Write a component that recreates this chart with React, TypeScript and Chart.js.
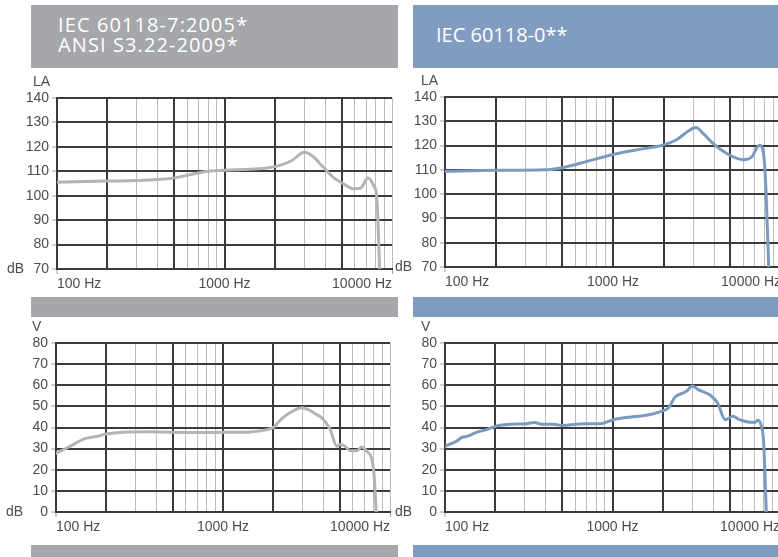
import React, { useEffect, useRef } from "react";
import { Chart, registerables } from "chart.js";

Chart.register(...registerables);

// ---------- data ----------
const TITLE_LEFT_LINES = ["IEC 60118-7:2005*", "ANSI S3.22-2009*"];
const TITLE_RIGHT = "IEC 60118-0**";

const X_LABEL_VALUES = [100, 1000, 10000];
const X_LABEL_TEXTS = ["100 Hz", "1000 Hz", "10000 Hz"];
const X_GRID_VALUES = [
  100, 200, 300, 400, 500, 600, 700, 800, 900,
  1000, 2000, 3000, 4000, 5000, 6000, 7000, 8000, 9000, 10000,
];
const X_MAJOR_GRID = [100, 200, 500, 1000, 2000, 5000];

const LA_RANGE = [70, 140];
const V_RANGE = [0, 80];

// IEC 60118-7 / ANSI - LA (gray)
const LA7_FREQ = [100, 200, 300, 400, 500, 630, 800, 1000, 1600, 2000, 2500, 3000, 3350, 3750, 4500, 5100, 5900, 6500, 7200, 7800, 8100, 8250, 8430];
const LA7_VALUES = [105.5, 106, 106.2, 106.6, 107.3, 108.7, 110, 110.4, 111, 111.9, 114.2, 117.8, 116.3, 112.8, 107.3, 105, 102.8, 103.1, 107.3, 103.9, 99.8, 88.8, 70];

// IEC 60118-0 - LA (blue)
const LA0_FREQ = [100, 200, 394, 500, 700, 1000, 1320, 2000, 2390, 2810, 3120, 3450, 3950, 4970, 5970, 6690, 7430, 7850, 8140, 8450];
const LA0_VALUES = [109.4, 109.8, 110, 110.9, 113.5, 116.3, 118, 120.3, 122.4, 126, 127.4, 124.9, 120.8, 116, 114.2, 115.3, 120.1, 117.3, 101.6, 70];

// IEC 60118-7 / ANSI - V (gray)
const V7_FREQ = [100, 116, 149, 175, 200, 265, 366, 500, 730, 1000, 1460, 1830, 2010, 2150, 2420, 2980, 3260, 3570, 3910, 4390, 4800, 5030, 5390, 5770, 6330, 6790, 7270, 7790, 8040, 8270];
const V7_VALUES = [27.9, 30.3, 34.7, 35.7, 36.9, 37.9, 38.0, 37.7, 37.6, 37.7, 37.9, 39, 40.1, 42.6, 46.1, 49.4, 48.4, 46.5, 44.5, 39, 31.1, 31.9, 31.1, 29, 29, 30.8, 28.7, 24.8, 16.9, 0];

// IEC 60118-0 - V (blue)
const V0_FREQ = [100, 117, 126, 135, 154, 177, 201, 244, 307, 344, 377, 443, 503, 638, 841, 1011, 1330, 1596, 2011, 2155, 2360, 2760, 3000, 3250, 3800, 4240, 4710, 5230, 5740, 6430, 7060, 7390, 7740, 7990, 8280];
const V0_VALUES = [31.1, 33.5, 35.3, 35.8, 37.7, 39, 40.6, 41.5, 41.8, 42.4, 41.5, 41.5, 41, 41.7, 41.8, 43.7, 45.1, 45.8, 48, 49.2, 54.3, 57.1, 59.6, 57.9, 55.5, 51.6, 43.7, 45.3, 43.7, 42.6, 42.4, 43.4, 40.6, 32.7, 0];

// ---------- styles ----------
const GRAY_BAND = "#a5a7aa";
const BLUE_BAND = "#809dc1";
const GRAY_LINE = "#b4b4b4";
const BLUE_LINE = "#7b9ac0";
const DARK_GRID = "#3a3a3a";
const LIGHT_GRID = "#bdbdbd";
const TICK_MARK = "#a0a0a0";
const TEXT = "#4d4d4d";
const FONT_FAMILY = '"Liberation Sans", Arial, sans-serif';

const M_LEFT = 57;
const M_TOP = 30;
const M_RIGHT = 6;
const M_BOTTOM = 26;

type PanelProps = {
  area: { x0: number; x1: number; y0: number; y1: number };
  freq: number[];
  values: number[];
  range: number[];
  unit: string;
  color: string;
};

function Panel({ area, freq, values, range, unit, color }: PanelProps) {
  const ref = useRef<HTMLCanvasElement>(null);
  const width = area.x1 - area.x0 + M_LEFT + M_RIGHT;
  const height = area.y1 - area.y0 + M_TOP + M_BOTTOM;

  useEffect(() => {
    const labelPlugin = {
      id: "panelLabels",
      afterDraw(chart: any) {
        const { ctx, chartArea } = chart;
        const xs = chart.scales.x;
        ctx.save();
        ctx.fillStyle = TEXT;
        ctx.font = `14px ${FONT_FAMILY}`;
        ctx.textBaseline = "alphabetic";
        X_LABEL_VALUES.forEach((v, i) => {
          ctx.textAlign = i === 0 ? "left" : i === X_LABEL_VALUES.length - 1 ? "right" : "center";
          ctx.fillText(X_LABEL_TEXTS[i], xs.getPixelForValue(v), chartArea.bottom + 19);
        });
        ctx.textAlign = "left";
        ctx.fillText(unit, chartArea.left - 24, chartArea.top - 12);
        ctx.textAlign = "right";
        ctx.fillText("dB", chartArea.left - 33, chartArea.bottom + 4);
        ctx.restore();
      },
    };

    const chart = new Chart(ref.current!, {
      type: "line",
      data: {
        datasets: [
          {
            data: freq.map((f, i) => ({ x: f, y: values[i] })),
            borderColor: color,
            borderWidth: 3,
            pointRadius: 0,
            fill: false,
            cubicInterpolationMode: "monotone",
            borderCapStyle: "round",
            borderJoinStyle: "round",
          },
        ],
      },
      options: {
        responsive: false,
        animation: false,
        events: [],
        layout: { padding: { top: M_TOP, right: M_RIGHT, left: 0, bottom: 0 } },
        plugins: { legend: { display: false }, tooltip: { enabled: false } },
        scales: {
          x: {
            type: "logarithmic",
            min: 100,
            max: 10000,
            afterBuildTicks: (s: any) => {
              s.ticks = X_GRID_VALUES.map((v) => ({ value: v }));
            },
            afterFit: (s: any) => {
              s.height = M_BOTTOM;
            },
            ticks: { display: false },
            border: { display: true, color: DARK_GRID, width: 2 },
            grid: {
              color: (c: any) => (c.tick && X_MAJOR_GRID.includes(c.tick.value) ? DARK_GRID : LIGHT_GRID),
              lineWidth: (c: any) => (c.tick && X_MAJOR_GRID.includes(c.tick.value) ? 2 : 1),
              tickLength: 5,
              tickWidth: 1,
              tickColor: (c: any) =>
                c.tick && (c.tick.value === 100 || c.tick.value === 10000) ? TICK_MARK : "rgba(0,0,0,0)",
            },
          },
          y: {
            type: "linear",
            min: range[0],
            max: range[1],
            afterFit: (s: any) => {
              s.width = M_LEFT;
            },
            ticks: {
              stepSize: 10,
              autoSkip: false,
              padding: 3,
              color: TEXT,
              font: { family: FONT_FAMILY, size: 14 },
            },
            border: { display: true, color: DARK_GRID, width: 2 },
            grid: {
              color: DARK_GRID,
              lineWidth: 2,
              tickLength: 5,
              tickWidth: 1,
              tickColor: TICK_MARK,
            },
          },
        },
      },
      plugins: [labelPlugin],
    } as any);
    return () => chart.destroy();
  }, []);

  return (
    <canvas
      ref={ref}
      width={width}
      height={height}
      style={{ position: "absolute", left: area.x0 - M_LEFT, top: area.y0 - M_TOP, width, height }}
    />
  );
}

const band = (left: number, top: number, width: number, height: number, bg: string): React.CSSProperties => ({
  position: "absolute",
  left,
  top,
  width,
  height,
  background: bg,
});

const titleStyle: React.CSSProperties = {
  position: "absolute",
  fontFamily: '"Open Sans", "Noto Sans", sans-serif',
  fontSize: 20,
  lineHeight: "20px",
  color: "#ffffff",
  whiteSpace: "nowrap",
};

export default function App() {
  return (
    <div
      style={{
        position: "fixed",
        left: 0,
        top: 0,
        width: 778,
        height: 557,
        overflow: "hidden",
        background: "#ffffff",
      }}
    >
      <div style={band(31, 5, 367, 63, GRAY_BAND)} />
      <div style={band(413, 5, 365, 63, BLUE_BAND)} />
      <div style={{ ...titleStyle, left: 58, top: 15, letterSpacing: "1.1px" }}>
        {TITLE_LEFT_LINES.map((t) => (
          <div key={t}>{t}</div>
        ))}
      </div>
      <div style={{ ...titleStyle, left: 436, top: 25 }}>{TITLE_RIGHT}</div>

      <div style={band(31, 297, 367, 20, GRAY_BAND)} />
      <div style={band(413, 297, 365, 20, BLUE_BAND)} />
      <div style={band(31, 545, 367, 12, GRAY_BAND)} />
      <div style={band(413, 545, 365, 12, BLUE_BAND)} />

      <Panel area={{ x0: 57, x1: 392, y0: 98, y1: 269 }} freq={LA7_FREQ} values={LA7_VALUES} range={LA_RANGE} unit="LA" color={GRAY_LINE} />
      <Panel area={{ x0: 445, x1: 781, y0: 97, y1: 267 }} freq={LA0_FREQ} values={LA0_VALUES} range={LA_RANGE} unit="LA" color={BLUE_LINE} />
      <Panel area={{ x0: 56, x1: 390, y0: 343, y1: 512 }} freq={V7_FREQ} values={V7_VALUES} range={V_RANGE} unit="V" color={GRAY_LINE} />
      <Panel area={{ x0: 445, x1: 780, y0: 343, y1: 512 }} freq={V0_FREQ} values={V0_VALUES} range={V_RANGE} unit="V" color={BLUE_LINE} />
    </div>
  );
}
